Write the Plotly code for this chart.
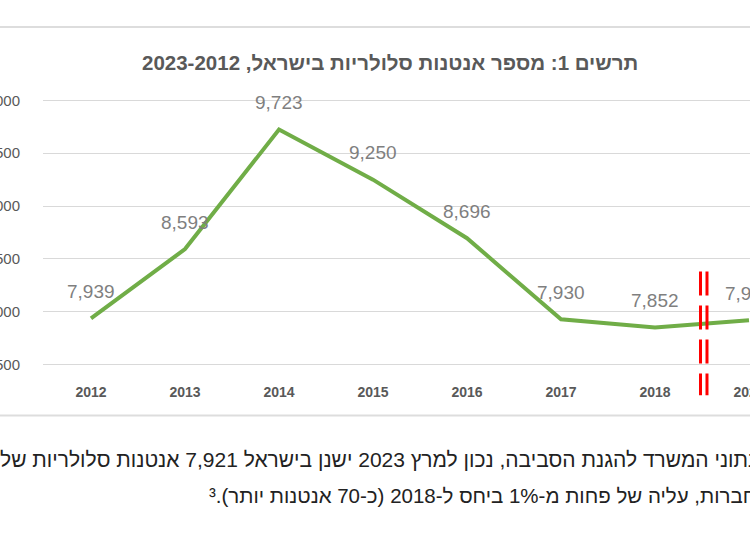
import plotly.graph_objects as go

# ---- data ----
years = ["2012", "2013", "2014", "2015", "2016", "2017", "2018", "2023"]
antennas = [7939, 8593, 9723, 9250, 8696, 7930, 7852, 7921]
value_labels = ["7,939", "8,593", "9,723", "9,250", "8,696", "7,930", "7,852", "7,921"]
y_ticks = [7500, 8000, 8500, 9000, 9500, 10000]

title_text = "תרשים 1: מספר אנטנות סלולריות בישראל, 2023-2012"
body_line1 = "נתוני המשרד להגנת הסביבה, נכון למרץ 2023 ישנן בישראל 7,921 אנטנות סלולריות של"
body_line2 = "חברות, עליה של פחות מ-1% ביחס ל-2018 (כ-70 אנטנות יותר).³"

RLE, PDF = "\u202B", "\u202C"

# ---- layout constants ----
W, H = 750, 536
L, R = 43, 0
T = 94.7
PH = 275.6
B = H - T - PH
PW = W - L - R


def px_x(px):
    return (px - L) / PW


def px_y(py):
    return (T + PH - py) / PH


GREEN = "#70AD47"
AXIS_GREY = "#595959"
LABEL_GREY = "#7F7F7F"
GRID = "#D9D9D9"
FONT = "Liberation Sans, Arial, sans-serif"

fig = go.Figure()
fig.add_trace(go.Scatter(
    x=years, y=antennas, mode="lines",
    line=dict(color=GREEN, width=4),
    hoverinfo="skip", showlegend=False,
))

annotations = []
# category axis: annotations use the category index
for i, (v, lab) in enumerate(zip(antennas, value_labels)):
    annotations.append(dict(
        x=i, y=v, xref="x", yref="y", text=lab, showarrow=False,
        yshift=27, font=dict(family=FONT, size=19, color=LABEL_GREY),
    ))

annotations.append(dict(
    x=px_x(390), y=px_y(62), xref="paper", yref="paper",
    text=RLE + title_text + PDF, showarrow=False,
    xanchor="center", yanchor="middle",
    font=dict(family=FONT, size=20.5, color=AXIS_GREY, weight="bold"),
))
annotations.append(dict(
    x=px_x(758), y=px_y(460), xref="paper", yref="paper",
    text=RLE + body_line1 + PDF, showarrow=False,
    xanchor="right", yanchor="middle",
    font=dict(family=FONT, size=21, color="#222222"),
))
annotations.append(dict(
    x=px_x(758), y=px_y(496), xref="paper", yref="paper",
    text=RLE + body_line2 + PDF, showarrow=False,
    xanchor="right", yanchor="middle",
    font=dict(family=FONT, size=20.5, color="#222222"),
))

shapes = []
# separator rules of the page
for py in (26.5, 416):
    shapes.append(dict(
        type="line", xref="paper", yref="paper",
        x0=px_x(0), x1=px_x(W), y0=px_y(py), y1=px_y(py),
        line=dict(color="#DDDDDD", width=2),
    ))
# red axis-break marks between 2018 and 2023
for xb in (6.484, 6.553):
    shapes.append(dict(
        type="line", xref="x", yref="paper",
        x0=xb, x1=xb, y0=px_y(271.5), y1=px_y(395.5),
        line=dict(color="#FF0000", width=3, dash="24px,10px"),
    ))

fig.update_layout(
    width=W, height=H, autosize=False,
    margin=dict(l=L, r=R, t=T, b=B, pad=0),
    paper_bgcolor="white", plot_bgcolor="white",
    annotations=annotations, shapes=shapes,
    xaxis=dict(
        type="category", categoryorder="array", categoryarray=years,
        range=[-0.5106, 7.0106], showgrid=False, zeroline=False,
        showline=False, ticks="", automargin=False,
        tickfont=dict(family=FONT, size=14, color=AXIS_GREY, weight="bold"),
        ticklabelstandoff=12,
    ),
    yaxis=dict(
        range=[7450, 10050], tickvals=y_ticks, tickformat=",",
        showgrid=True, gridcolor=GRID, gridwidth=1, zeroline=False,
        showline=False, ticks="", automargin=False,
        tickfont=dict(family=FONT, size=15, color=AXIS_GREY),
        ticklabelstandoff=22,
    ),
)

fig.write_html("out.html")
